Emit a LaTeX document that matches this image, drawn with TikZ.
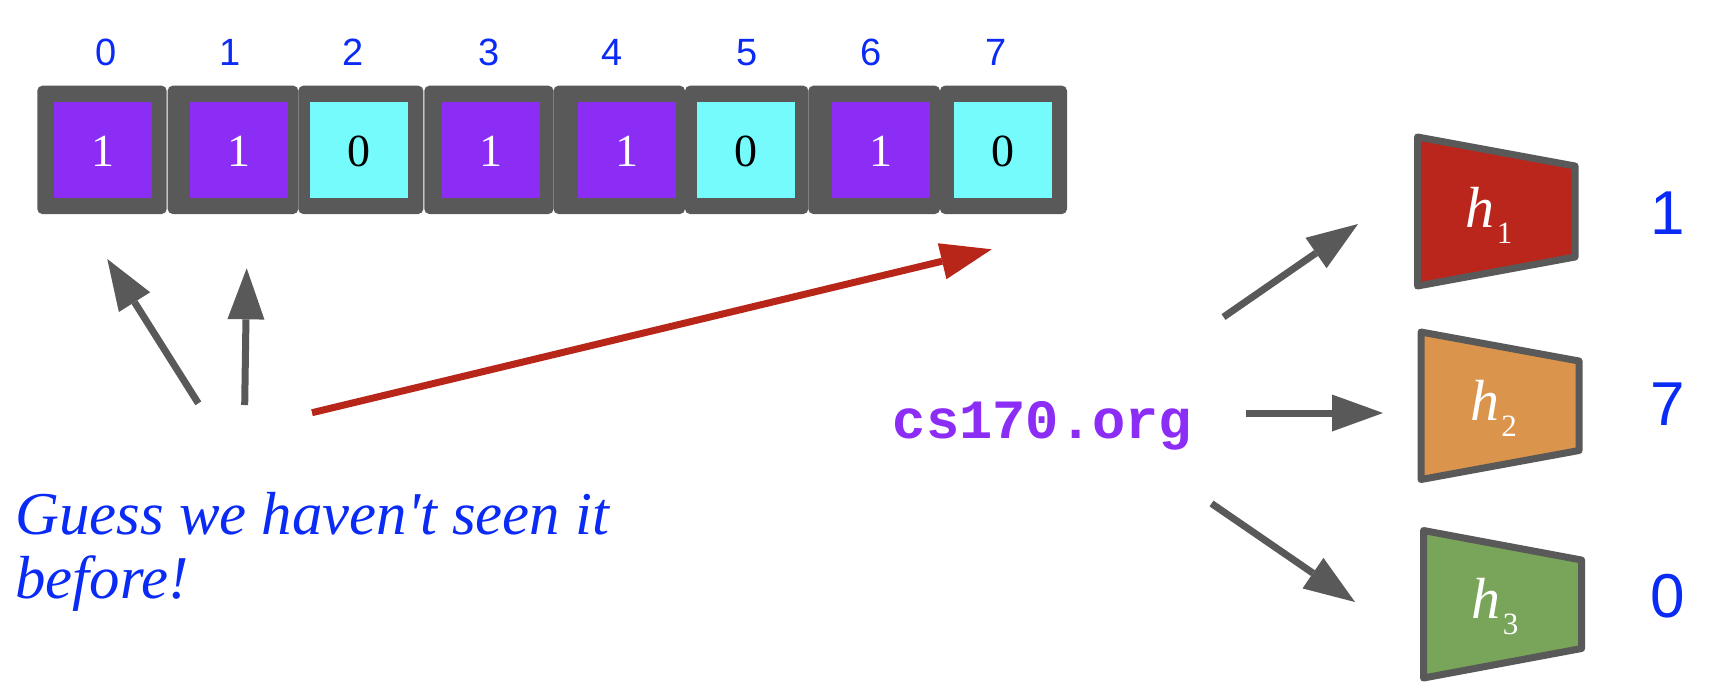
\documentclass[tikz,border=0pt]{standalone}
\usepackage{fontspec}
\setmainfont{Liberation Serif}
\newfontfamily\sansf{Liberation Sans}
\newfontfamily\monof{Liberation Mono}
\usetikzlibrary{arrows.meta}
\definecolor{cgray}{HTML}{595959}
\definecolor{cpurple}{HTML}{8C2DF5}
\definecolor{ccyan}{HTML}{75FBFC}
\definecolor{cblue}{HTML}{0A2AF5}
\definecolor{cred}{HTML}{BA261B}
\definecolor{carrowred}{HTML}{B8261A}
\definecolor{corange}{HTML}{DA944B}
\definecolor{cgreen}{HTML}{79A55A}
\begin{document}
\begin{tikzpicture}[x=0.5pt,y=-0.5pt,
  outer/.style={fill=cgray, rounded corners=2.5pt},
  bit/.style={inner sep=0pt, minimum width=49pt, minimum height=48pt,
    text height=16.8pt, text depth=0pt, font=\fontsize{23pt}{26pt}\selectfont},
  one/.style={bit, fill=cpurple, text=white},
  zero/.style={bit, fill=ccyan, text=black},
  idx/.style={anchor=base, inner sep=0pt, text=cblue, font=\sansf\fontsize{19pt}{21pt}\selectfont},
  num/.style={anchor=base, inner sep=0pt, text=cblue, font=\sansf\fontsize{31pt}{34pt}\selectfont},
  trap/.style={draw=cgray, line width=3.5pt, line join=round},
  hlab/.style={anchor=base, inner sep=0pt, text=white, font=\itshape\fontsize{29pt}{31pt}\selectfont},
  garrow/.style={draw=cgray, line width=3.5pt, -{Triangle[length=25.5pt,width=18.5pt,line width=0pt]}},
  rarrow/.style={draw=carrowred, line width=3.5pt, -{Triangle[length=25.5pt,width=18.5pt,line width=0pt]}},
  guess/.style={anchor=base west, inner sep=0pt, text=cblue, font=\itshape\fontsize{30.4pt}{32pt}\selectfont}
]
\useasboundingbox (0,0) rectangle (1728,698);

% outer gray cells
\fill[outer] (37.3,85.7) rectangle (166.7,214);
\fill[outer] (167.7,85.7) rectangle (298.3,214);
\fill[outer] (298.3,85.7) rectangle (423.3,214);
\fill[outer] (424.3,85.7) rectangle (553.5,214);
\fill[outer] (553.5,85.7) rectangle (685,214);
\fill[outer] (685,85.7) rectangle (808.3,214);
\fill[outer] (808.3,85.7) rectangle (940,214);
\fill[outer] (940,85.7) rectangle (1067,214);

% inner bits
\node[one]  (c0) at (102.5,149.7) {1};
\node[one]  (c1) at (238.8,149.7) {1};
\node[zero] (c2) at (359.2,149.7) {0};
\node[one]  (c3) at (490.5,149.7) {1};
\node[one]  (c4) at (626.7,149.7) {1};
\node[zero] (c5) at (746.3,149.7) {0};
\node[one]  (c6) at (880.8,149.7) {1};
\node[zero] (c7) at (1002.5,149.7) {0};

% indices
\node[idx] (i0) at (105.8,65) {0};
\node[idx] (i1) at (230,65) {1};
\node[idx] (i2) at (353.3,65) {2};
\node[idx] (i3) at (488.8,65) {3};
\node[idx] (i4) at (611.7,65) {4};
\node[idx] (i5) at (747.5,65) {5};
\node[idx] (i6) at (871.2,65) {6};
\node[idx] (i7) at (995.8,65) {7};

% left arrows
\coordinate (gA0) at (198.3,403.3);
\coordinate (gA1) at (107.3,259);
\coordinate (gB0) at (244.7,405);
\coordinate (gB1) at (246.7,268.3);
\coordinate (r0) at (312,412.7);
\coordinate (r1) at (991.7,249.3);
\draw[garrow] (gA0) -- (gA1);
\draw[garrow] (gB0) -- (gB1);
\draw[rarrow] (r0) -- (r1);

% guess text
\node[guess] (guess1) at (15,534) {Guess we haven\textquotesingle t seen it};
\node[guess] (guess2) at (15,598) {before!};

% url
\node[anchor=base, inner sep=0pt, text=cpurple, font=\monof\bfseries\fontsize{27.7pt}{30pt}\selectfont] (url) at (1042.5,438.3) {cs170.org};

% hash function trapezoids
\draw[trap, fill=cred] (1417.5,137) -- (1575,166) -- (1575,257) -- (1417.5,286) -- cycle;
\draw[trap, fill=corange] (1421,332) -- (1579,361) -- (1579,450.5) -- (1421,479.5) -- cycle;
\draw[trap, fill=cgreen] (1423.5,530.5) -- (1581.5,560) -- (1581.5,648.5) -- (1423.5,678) -- cycle;

\node[hlab] (h1) at (1489,227) {h\kern1pt\raisebox{-8pt}{\upshape\fontsize{15.5pt}{17pt}\selectfont 1}};
\node[hlab] (h2) at (1493.5,420) {h\kern1pt\raisebox{-8pt}{\upshape\fontsize{15.5pt}{17pt}\selectfont 2}};
\node[hlab] (h3) at (1495,618) {h\kern1pt\raisebox{-8pt}{\upshape\fontsize{15.5pt}{17pt}\selectfont 3}};

% arrows from url to hash functions
\coordinate (a10) at (1223.5,317);
\coordinate (a11) at (1358,224);
\coordinate (a20) at (1246,413);
\coordinate (a21) at (1383,413);
\coordinate (a30) at (1211.5,503.5);
\coordinate (a31) at (1355,602);
\draw[garrow] (a10) -- (a11);
\draw[garrow] (a20) -- (a21);
\draw[garrow] (a30) -- (a31);

% outputs
\node[num] (n1) at (1668,234) {1};
\node[num] (n2) at (1668,425) {7};
\node[num] (n3) at (1668,617) {0};
\end{tikzpicture}
\end{document}
